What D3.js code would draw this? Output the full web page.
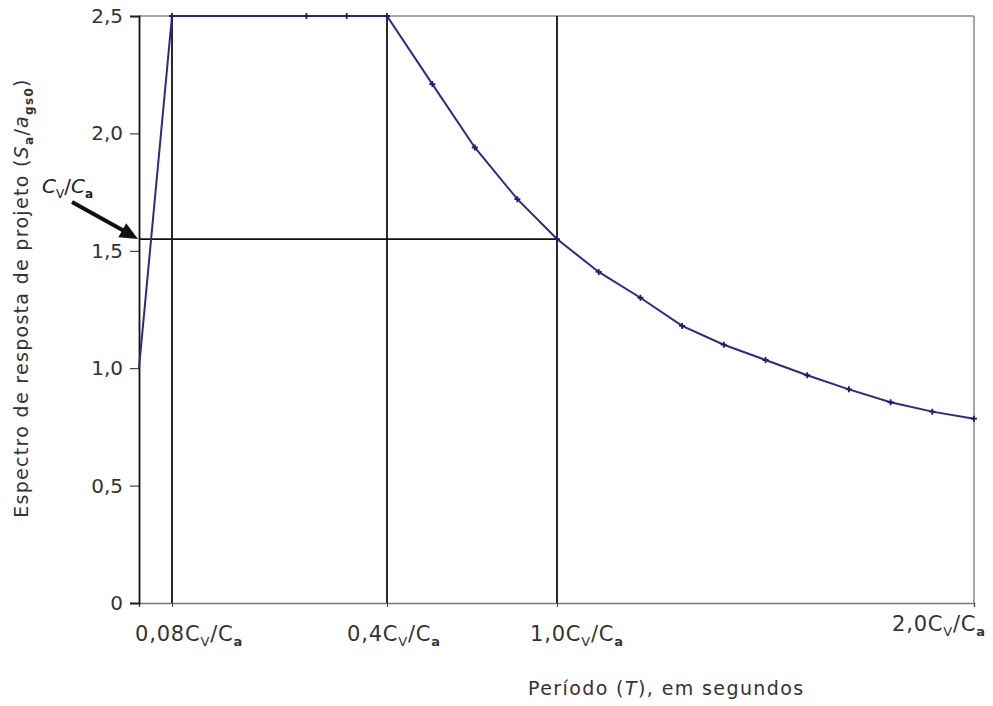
<!DOCTYPE html>
<html>
<head>
<meta charset="utf-8">
<script src="https://cdn.jsdelivr.net/npm/d3@7"></script>
<style>
  body { margin: 0; background: #fff; }
  text { font-family: "DejaVu Sans", sans-serif; fill: #222; }
</style>
</head>
<body>
<div id="chart"></div>
<script>
// Period T, in multiples of Cv/Ca
const periods = [0, 0.08, 0.28, 0.34, 0.4, 0.56, 0.71, 0.86, 1.0, 1.1, 1.2, 1.3, 1.4, 1.5, 1.6, 1.7, 1.8, 1.9, 2.0];
// Design response spectrum Sa/ags0
const spectrum = [1.0, 2.5, 2.5, 2.5, 2.5, 2.21, 1.94, 1.72, 1.55, 1.41, 1.30, 1.18, 1.10, 1.035, 0.97, 0.91, 0.855, 0.815, 0.785];

const yTicks = [0, 0.5, 1.0, 1.5, 2.0, 2.5];
const xTicks = [0.08, 0.4, 1.0, 2.0];
const xTickCoef = ["0,08", "0,4", "1,0", "2,0"];
const refPeriods = [0.08, 0.4, 1.0];
const cvOverCa = 1.55;

const width = 993, height = 706;

const svg = d3.select("#chart").append("svg")
    .attr("width", width)
    .attr("height", height);

// schematic x axis: not linear, each segment stretched on its own
const x = d3.scaleLinear()
    .domain([0, 0.08, 0.4, 1.0, 2.0])
    .range([139, 172, 387, 557, 974]);
const y = d3.scaleLinear()
    .domain([0, 2.5])
    .range([603, 16]);

const comma = d => d === 0 ? "0" : d3.format(".1f")(d).replace(".", ",");

// frame (top and right)
svg.append("line")
    .attr("x1", x(0)).attr("x2", x(2.0))
    .attr("y1", y(2.5)).attr("y2", y(2.5))
    .style("stroke", "#8a8a8a").style("stroke-width", 1.5);
svg.append("line")
    .attr("x1", x(2.0)).attr("x2", x(2.0))
    .attr("y1", y(2.5)).attr("y2", y(0))
    .style("stroke", "#8a8a8a").style("stroke-width", 1.5);

// bottom axis
const xAxis = svg.append("g")
    .attr("transform", `translate(0,${y(0)})`)
    .call(d3.axisBottom(x).tickValues([0].concat(xTicks)).tickSize(4).tickFormat(""));
xAxis.select(".domain").style("stroke", "#777").style("stroke-width", 1.5);
xAxis.selectAll(".tick line").style("stroke", "#444");

// left axis
const yAxis = svg.append("g")
    .attr("transform", `translate(${x(0)},0)`)
    .call(d3.axisLeft(y).tickValues(yTicks).tickSize(9).tickPadding(7).tickFormat(comma));
yAxis.select(".domain").style("stroke", "#111").style("stroke-width", 1.8);
yAxis.selectAll(".tick line").style("stroke", "#222");
yAxis.selectAll(".tick text")
    .style("font-size", "20px")
    .style("font-family", "'DejaVu Sans', sans-serif")
    .style("fill", "#333");

// vertical reference lines
svg.selectAll(".ref-v")
    .data(refPeriods)
    .enter().append("line")
    .attr("class", "ref-v")
    .attr("x1", d => x(d)).attr("x2", d => x(d))
    .attr("y1", y(2.5)).attr("y2", y(0))
    .style("stroke", "#111").style("stroke-width", 1.8);

// horizontal line at Cv/Ca
svg.append("line")
    .attr("x1", x(0)).attr("x2", x(1.0))
    .attr("y1", y(cvOverCa)).attr("y2", y(cvOverCa))
    .style("stroke", "#111").style("stroke-width", 1.8);

// spectrum curve
const pts = periods.map((t, i) => [t, spectrum[i]]);
svg.append("path")
    .datum(pts)
    .attr("d", d3.line().x(d => x(d[0])).y(d => y(d[1])))
    .style("fill", "none")
    .style("stroke", "#2a2a8c")
    .style("stroke-width", 2);

// small markers on the curve
svg.selectAll(".mk")
    .data(pts.slice(1))
    .enter().append("path")
    .attr("class", "mk")
    .attr("transform", d => `translate(${x(d[0])},${y(d[1])})`)
    .attr("d", "M-3,0H3M0,-3V3")
    .style("stroke", "#1c1c70")
    .style("stroke-width", 1.8);

// x tick labels: "n,nn Cv/Ca"
const labelShift = [[-37, 0], [-40, 0], [-27, 0], [-82, -10]];
xTicks.forEach((t, i) => {
    const txt = svg.append("text")
        .attr("x", x(t) + labelShift[i][0])
        .attr("y", y(0) + 38 + labelShift[i][1])
        .style("font-size", "21px")
        .style("letter-spacing", "0.8px")
        .style("fill", "#333");
    txt.append("tspan").text(xTickCoef[i] + "C");
    txt.append("tspan").attr("dy", 5).style("font-size", "13px").text("V");
    txt.append("tspan").attr("dy", -5).text("/C");
    txt.append("tspan").attr("dy", 5).style("font-size", "13px").style("font-weight", "bold").text("a");
});

// x axis title
const xTitle = svg.append("text")
    .attr("x", 528)
    .attr("y", 695)
    .style("font-size", "19px")
    .style("letter-spacing", "1.4px")
    .style("fill", "#333");
xTitle.append("tspan").text("Período (");
xTitle.append("tspan").style("font-style", "italic").text("T");
xTitle.append("tspan").text("), em segundos");

// y axis title
const yTitle = svg.append("text")
    .attr("transform", "translate(28,298) rotate(-90)")
    .attr("text-anchor", "middle")
    .style("font-size", "19px")
    .style("letter-spacing", "1.3px")
    .style("fill", "#333");
yTitle.append("tspan").text("Espectro de resposta de projeto (");
yTitle.append("tspan").style("font-style", "italic").text("S");
yTitle.append("tspan").attr("dy", 5).style("font-size", "12px").style("font-weight", "bold").text("a");
yTitle.append("tspan").attr("dy", -5).text("/");
yTitle.append("tspan").style("font-style", "italic").text("a");
yTitle.append("tspan").attr("dy", 5).style("font-size", "12px").style("font-weight", "bold").text("gs0");
yTitle.append("tspan").attr("dy", -5).text(")");

// Cv/Ca annotation with arrow
const note = svg.append("text")
    .attr("x", 42)
    .attr("y", 193)
    .style("font-size", "20px")
    .style("fill", "#222");
note.append("tspan").style("font-style", "italic").text("C");
note.append("tspan").attr("dy", 5).style("font-size", "12px").text("V");
note.append("tspan").attr("dy", -5).text("/");
note.append("tspan").style("font-style", "italic").text("C");
note.append("tspan").attr("dy", 5).style("font-size", "12px").style("font-weight", "bold").text("a");

const tipX = x(0) - 1, tipY = y(cvOverCa);
svg.append("line")
    .attr("x1", tipX - 66).attr("y1", tipY - 37)
    .attr("x2", tipX - 12).attr("y2", tipY - 7)
    .style("stroke", "#111").style("stroke-width", 4);
svg.append("path")
    .attr("transform", `translate(${tipX},${tipY}) rotate(${Math.atan2(37, 66) * 180 / Math.PI})`)
    .attr("d", "M0,0L-18,-8L-18,8Z")
    .style("fill", "#111");
</script>
</body>
</html>
